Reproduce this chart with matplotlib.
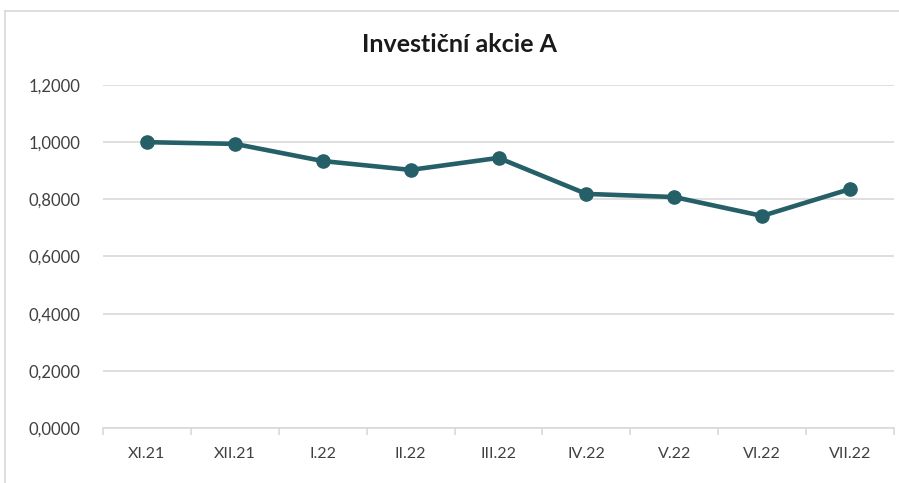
import matplotlib.pyplot as plt
from matplotlib.lines import Line2D
from matplotlib.ticker import FuncFormatter, MultipleLocator

months = ['XI.21', 'XII.21', 'I.22', 'II.22', 'III.22', 'IV.22', 'V.22', 'VI.22', 'VII.22']
values = [1.000, 0.994, 0.934, 0.903, 0.945, 0.819, 0.808, 0.742, 0.836]

plt.rcParams['font.family'] = ['Lato', 'DejaVu Sans']

fig = plt.figure(figsize=(8.99, 4.83), dpi=100)
ax = fig.add_axes([103 / 899, 1 - 428 / 483, (894 - 103) / 899, (428 - 85) / 483])

# chart frame (left and top edges visible)
fig.add_artist(Line2D([5 / 899, 5 / 899], [0, 1 - 11 / 483], color='#d9d9d9', lw=1.2))
fig.add_artist(Line2D([5 / 899, 1], [1 - 11 / 483, 1 - 11 / 483], color='#d9d9d9', lw=1.2))

x = range(len(months))
ax.plot(x, values, color='#255f67', lw=3.3, marker='o', markersize=9.5, zorder=3)

ax.set_xlim(-0.5, len(months) - 0.5)
ax.set_ylim(0, 1.2)
ax.yaxis.set_major_locator(MultipleLocator(0.2))
ax.yaxis.set_major_formatter(FuncFormatter(lambda v, p: f'{v:.4f}'.replace('.', ',')))
ax.grid(axis='y', color='#d9d9d9', lw=1.2)
ax.set_axisbelow(True)

ax.set_xticks(list(x))
ax.set_xticklabels(months)
ax.set_xticks([i - 0.5 for i in range(len(months) + 1)], minor=True)
ax.tick_params(axis='x', which='major', length=0, pad=14, labelsize=11.5, labelcolor='#404040')
ax.tick_params(axis='x', which='minor', length=5, color='#d9d9d9', width=1.2)
ax.tick_params(axis='y', length=0, pad=16, labelsize=12, labelcolor='#404040')

for s in ['top', 'right', 'left']:
    ax.spines[s].set_visible(False)
ax.spines['bottom'].set_color('#d9d9d9')
ax.spines['bottom'].set_linewidth(1.2)

fig.text(460 / 899, 1 - 45 / 483, 'Investiční akcie A', ha='center', va='center',
         fontsize=18, fontweight='bold', color='#1a1a1a')

fig.savefig('out.png', dpi=100)
